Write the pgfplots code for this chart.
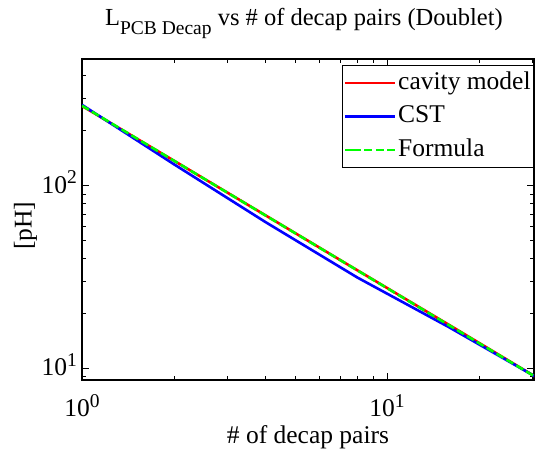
\documentclass[border=0pt]{standalone}
\usepackage{fontspec}
\setmainfont{Liberation Serif}
\usepackage{pgfplots}
\pgfplotsset{compat=1.18}
\newcommand{\tl}[1]{\fontsize{25.5}{28}\selectfont 10\raisebox{9.5pt}{\fontsize{19.5}{20}\selectfont #1}}
\newcommand{\lbl}{\fontsize{25.5}{28}\selectfont}
\begin{document}
\begin{tikzpicture}
\begin{loglogaxis}[
  name=ax,
  scale only axis,
  width=452pt, height=321pt,
  xmin=1, xmax=30.3, ymin=8.6, ymax=494,
  xtick={1,10}, xticklabels={{\tl{0}},{\tl{1}}},
  ytick={10,100}, yticklabels={{\tl{1}},{\tl{2}}},
  minor xtick={2,3,4,5,6,7,8,9,20,30},
  minor ytick={9,20,30,40,50,60,70,80,90,200,300,400},
  tick align=inside,
  major tick length=7pt, minor tick length=4pt,
  every tick/.style={black, line width=0.6pt},
  axis line style={line width=1.1pt},
  xticklabel style={anchor=base, inner sep=0pt, yshift=-37pt},
  yticklabel style={anchor=base east, inner sep=0pt, xshift=-5pt, yshift=-7.5pt},
  title={\fontsize{24.5}{28}\selectfont L\raisebox{-8.3pt}{\fontsize{19.5}{20}\selectfont PCB Decap} vs \# of decap pairs (Doublet)},
  title style={at={(axis description cs:0.5,1)}, anchor=base, yshift=27pt, xshift=-4pt, inner sep=0pt},
  xlabel={\lbl \# of decap pairs},
  xlabel style={at={(axis description cs:0.5,-0.199)}, anchor=base, inner sep=0pt},
  ylabel={\lbl [pH]},
  ylabel style={at={(axis description cs:-0.125,0.481)}, anchor=center, inner sep=0pt},
  legend style={at={(axis description cs:1,1)}, anchor=north east, yshift=-6pt,
    draw=black, line width=0.8pt, inner sep=1pt, row sep=0pt,
    font=\fontsize{25.5}{28}\selectfont,
    nodes={inner ysep=3pt, inner xsep=2pt, text height=20pt, text depth=7.5pt}},
  legend cell align=left,
  legend image code/.code={\draw[#1, line width=2.6pt] (0pt,0pt) -- (42pt,0pt); \path (-8pt,0pt) -- (0pt,0pt);},
]
\addplot[red, line width=2.6pt, line join=round] coordinates {
  (1,273) (2,137) (4,68.6) (8,34.3) (16,17.2) (32,8.58)};
\addlegendentry{cavity model}
\addplot[blue, line width=2.6pt, line join=round] coordinates {
  (1,277) (2,131) (4,63) (8,31.3) (16,16.7) (32,8.6)};
\addlegendentry{CST}
\addplot[green, line width=2.6pt, dash pattern=on 8pt off 3.5pt] coordinates {
  (1,274) (2,137) (4,68.5) (8,34.25) (16,17.125) (32,8.5625)};
\addlegendentry{Formula}
\end{loglogaxis}
\pgfresetboundingbox
\path[use as bounding box] ([shift={(-82pt,-69pt)}]ax.south west) rectangle ([shift={(1pt,59pt)}]ax.north east);
\end{tikzpicture}
\end{document}
